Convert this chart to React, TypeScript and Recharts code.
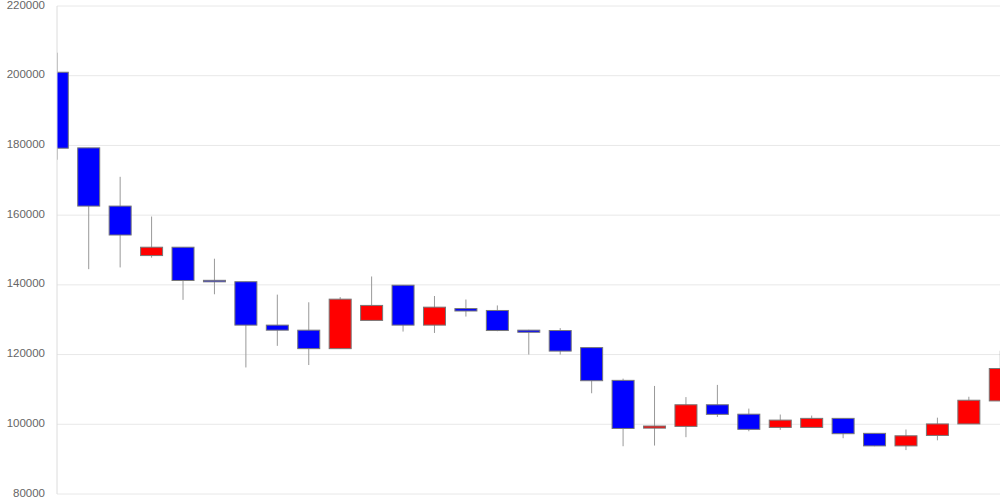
import React from "react";
import {
  ComposedChart,
  Bar,
  XAxis,
  YAxis,
  CartesianGrid,
} from "recharts";

// daily candles, oldest first
const opens = [
  201000, 179300, 162600, 148400, 150800, 141300, 140900, 128450, 127000, 121700,
  129800, 139900, 128450, 133200, 132650, 127000, 126900, 122000, 112600, 98900,
  99400, 105600, 102900, 99100, 99100, 101700, 97400, 93800, 96800, 100100, 106700,
];
const closes = [
  179200, 162600, 154300, 150800, 141250, 140900, 128450, 127000, 121700, 135900,
  134100, 128450, 133600, 132500, 126900, 126400, 121000, 112500, 98800, 99500,
  105600, 102850, 98550, 101200, 101700, 97300, 93800, 96700, 100100, 106900, 116000,
];
const highs = [
  206600, 179300, 171000, 159600, 150800, 147500, 140900, 137200, 135000, 136500,
  142400, 139900, 136800, 135800, 134100, 127100, 127600, 122000, 113100, 111000,
  107800, 111300, 104500, 102800, 102500, 101700, 97400, 98500, 101900, 107900, 121100,
];
const lows = [
  175900, 144500, 145000, 147800, 135700, 137300, 116300, 122500, 117000, 121700,
  129800, 126600, 126200, 130900, 126700, 120000, 120000, 108900, 93700, 93900,
  96300, 102100, 98000, 98400, 99100, 96000, 93700, 92600, 95400, 100100, 106700,
];
const yTicks = [80000, 100000, 120000, 140000, 160000, 180000, 200000, 220000];

const data = opens.map((open, i) => ({
  idx: i,
  open,
  close: closes[i],
  high: highs[i],
  low: lows[i],
  range: [lows[i], highs[i]],
}));

const BODY_W = 22;

function Candle(props: any) {
  const { x, y, width, height, payload } = props;
  if (x == null || y == null || !payload) return null;
  const top = Math.min(y, y + height);
  const bottom = Math.max(y, y + height);
  const { open, close, high, low } = payload;
  const span = high - low || 1;
  const toPx = (v: number) => top + ((high - v) / span) * (bottom - top);
  const cx = x + width / 2;
  const bodyTop = toPx(Math.max(open, close));
  const bodyBottom = toPx(Math.min(open, close));
  const rising = close > open;
  return (
    <g>
      <line x1={cx} x2={cx} y1={top} y2={bottom} stroke="#999" strokeWidth={1} />
      <rect
        x={cx - BODY_W / 2}
        y={bodyTop}
        width={BODY_W}
        height={Math.max(bodyBottom - bodyTop, 1.5)}
        fill={rising ? "#ff0000" : "#0000ff"}
        stroke="#777"
        strokeWidth={1}
      />
    </g>
  );
}

function PriceTick(props: any) {
  const { x, y, payload } = props;
  return (
    <text
      x={x}
      y={y - 1.5}
      dy="0.355em"
      textAnchor="end"
      fontSize={11.5}
      fill="#666"
      fontFamily="Liberation Sans, Arial, sans-serif"
    >
      {payload.value}
    </text>
  );
}

export default function App() {
  return (
    <div style={{ position: "absolute", left: 0, top: 0, background: "#fff" }}>
      <ComposedChart
        width={1000}
        height={500}
        data={data}
        margin={{ top: 6, right: 0, bottom: 6, left: 0 }}
      >
        <CartesianGrid vertical={false} stroke="#e8e8e8" />
        <XAxis
          dataKey="idx"
          type="number"
          domain={[0, 30]}
          allowDataOverflow
          hide
        />
        <YAxis
          width={57}
          domain={[80000, 220000]}
          ticks={yTicks}
          interval={0}
          allowDataOverflow
          tickLine={false}
          tickSize={0}
          tickMargin={12}
          axisLine={{ stroke: "#dcdcdc" }}
          tick={<PriceTick />}
        />
        <Bar
          dataKey="range"
          barSize={BODY_W}
          shape={<Candle />}
          isAnimationActive={false}
        />
      </ComposedChart>
    </div>
  );
}
